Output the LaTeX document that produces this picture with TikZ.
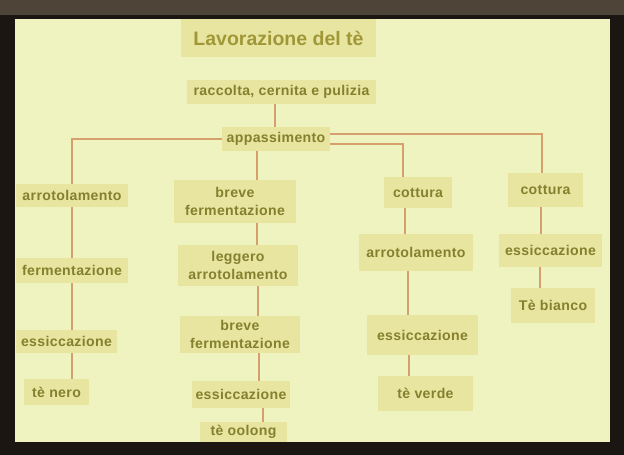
\documentclass[tikz,border=0pt]{standalone}
\usepackage{fontspec}
\setmainfont{Liberation Sans}[LetterSpace=2.5]
\newfontfamily\titlefont{Liberation Sans}
\definecolor{framec}{HTML}{1B1612}
\definecolor{framet}{HTML}{4F4438}
\definecolor{paperc}{HTML}{EFF3BF}
\definecolor{boxc}{HTML}{E8E5A0}
\definecolor{txtc}{HTML}{85802E}
\definecolor{titlec}{HTML}{A09838}
\definecolor{linec}{HTML}{D6A06C}
\begin{document}
\begin{tikzpicture}[x=1pt,y=-1pt,
  box/.style={fill=boxc, text=txtc, font=\fontsize{14.1}{17.5}\selectfont\bfseries, align=center, inner sep=0pt},
  conn/.style={draw=linec, line width=1.6pt}]
\useasboundingbox (0,0) rectangle (624,455);
\fill[framec] (0,0) rectangle (624,455);
\fill[framet] (0,0) rectangle (624,15);
\fill[paperc] (15,19) rectangle (610,442);
% nodes
\node[box, minimum width=195, minimum height=38, text=titlec, font=\titlefont\fontsize{19.5}{22}\selectfont\bfseries] (title) at (278.5,38) {Lavorazione del tè};
\node[box, minimum width=189, minimum height=24] (racc) at (281.5,92) {raccolta, cernita e pulizia};
\node[box, minimum width=108, minimum height=24] (app) at (276,139) {appassimento};
% column 1
\node[box, minimum width=112, minimum height=23] (arr1) at (72,195.5) {arrotolamento};
\node[box, minimum width=112, minimum height=25] (ferm1) at (72,270.5) {fermentazione};
\node[box, minimum width=101, minimum height=23] (ess1) at (66.5,341.5) {essiccazione};
\node[box, minimum width=65, minimum height=26] (nero) at (56.5,392) {tè nero};
% column 2
\node[box, minimum width=122, minimum height=43] (bf1) at (235,201.5) {breve\\fermentazione};
\node[box, minimum width=120, minimum height=41] (legg) at (238,265.5) {leggero\\arrotolamento};
\node[box, minimum width=120, minimum height=37] (bf2) at (240,334.5) {breve\\fermentazione};
\node[box, minimum width=98, minimum height=27] (ess2) at (241,394.5) {essiccazione};
\node[box, minimum width=87, minimum height=20] (oolong) at (243.5,432) {tè oolong};
% column 3
\node[box, minimum width=68, minimum height=31] (cot3) at (418,192.5) {cottura};
\node[box, minimum width=114, minimum height=37] (arr3) at (416,252.5) {arrotolamento};
\node[box, minimum width=111, minimum height=40] (ess3) at (422.5,335) {essiccazione};
\node[box, minimum width=95, minimum height=35] (verde) at (425.5,393.5) {tè verde};
% column 4
\node[box, minimum width=75, minimum height=34] (cot4) at (545.5,190) {cottura};
\node[box, minimum width=103, minimum height=33] (ess4) at (550.5,250.5) {essiccazione};
\node[box, minimum width=84, minimum height=35] (bianco) at (553,305.5) {Tè bianco};
% helper coordinates
\coordinate (xa) at (275,0);
\coordinate (xb) at (257,0);
\coordinate (xb2) at (258,0);
\coordinate (xb3) at (259,0);
\coordinate (xb4) at (263,0);
\coordinate (xc) at (403,0);
\coordinate (xc2) at (405,0);
\coordinate (xc3) at (408,0);
\coordinate (xc4) at (409,0);
\coordinate (xd) at (542,0);
\coordinate (xd2) at (541,0);
\coordinate (xd3) at (540,0);
\coordinate (hy1) at (0,134);
\coordinate (hy2) at (0,144);
% connectors
\draw[conn] (racc.south -| xa) -- (app.north -| xa);
\draw[conn] (app.west) -| (arr1.north);
\draw[conn] (app.south -| xb) -- (bf1.north -| xb);
\draw[conn] (app.east |- hy1) -| (cot4.north -| xd);
\draw[conn] (app.east |- hy2) -| (cot3.north -| xc);
\draw[conn] (arr1.south) -- (ferm1.north);
\draw[conn] (ferm1.south) -- (ferm1.south |- ess1.north);
\draw[conn] (ferm1.south |- ess1.south) -- (ferm1.south |- nero.north);
\draw[conn] (bf1.south -| xb) -- (legg.north -| xb);
\draw[conn] (legg.south -| xb2) -- (bf2.north -| xb2);
\draw[conn] (bf2.south -| xb3) -- (ess2.north -| xb3);
\draw[conn] (ess2.south -| xb4) -- (oolong.north -| xb4);
\draw[conn] (cot3.south -| xc2) -- (arr3.north -| xc2);
\draw[conn] (arr3.south -| xc3) -- (ess3.north -| xc3);
\draw[conn] (ess3.south -| xc4) -- (verde.north -| xc4);
\draw[conn] (cot4.south -| xd2) -- (ess4.north -| xd2);
\draw[conn] (ess4.south -| xd3) -- (bianco.north -| xd3);
\end{tikzpicture}
\end{document}
